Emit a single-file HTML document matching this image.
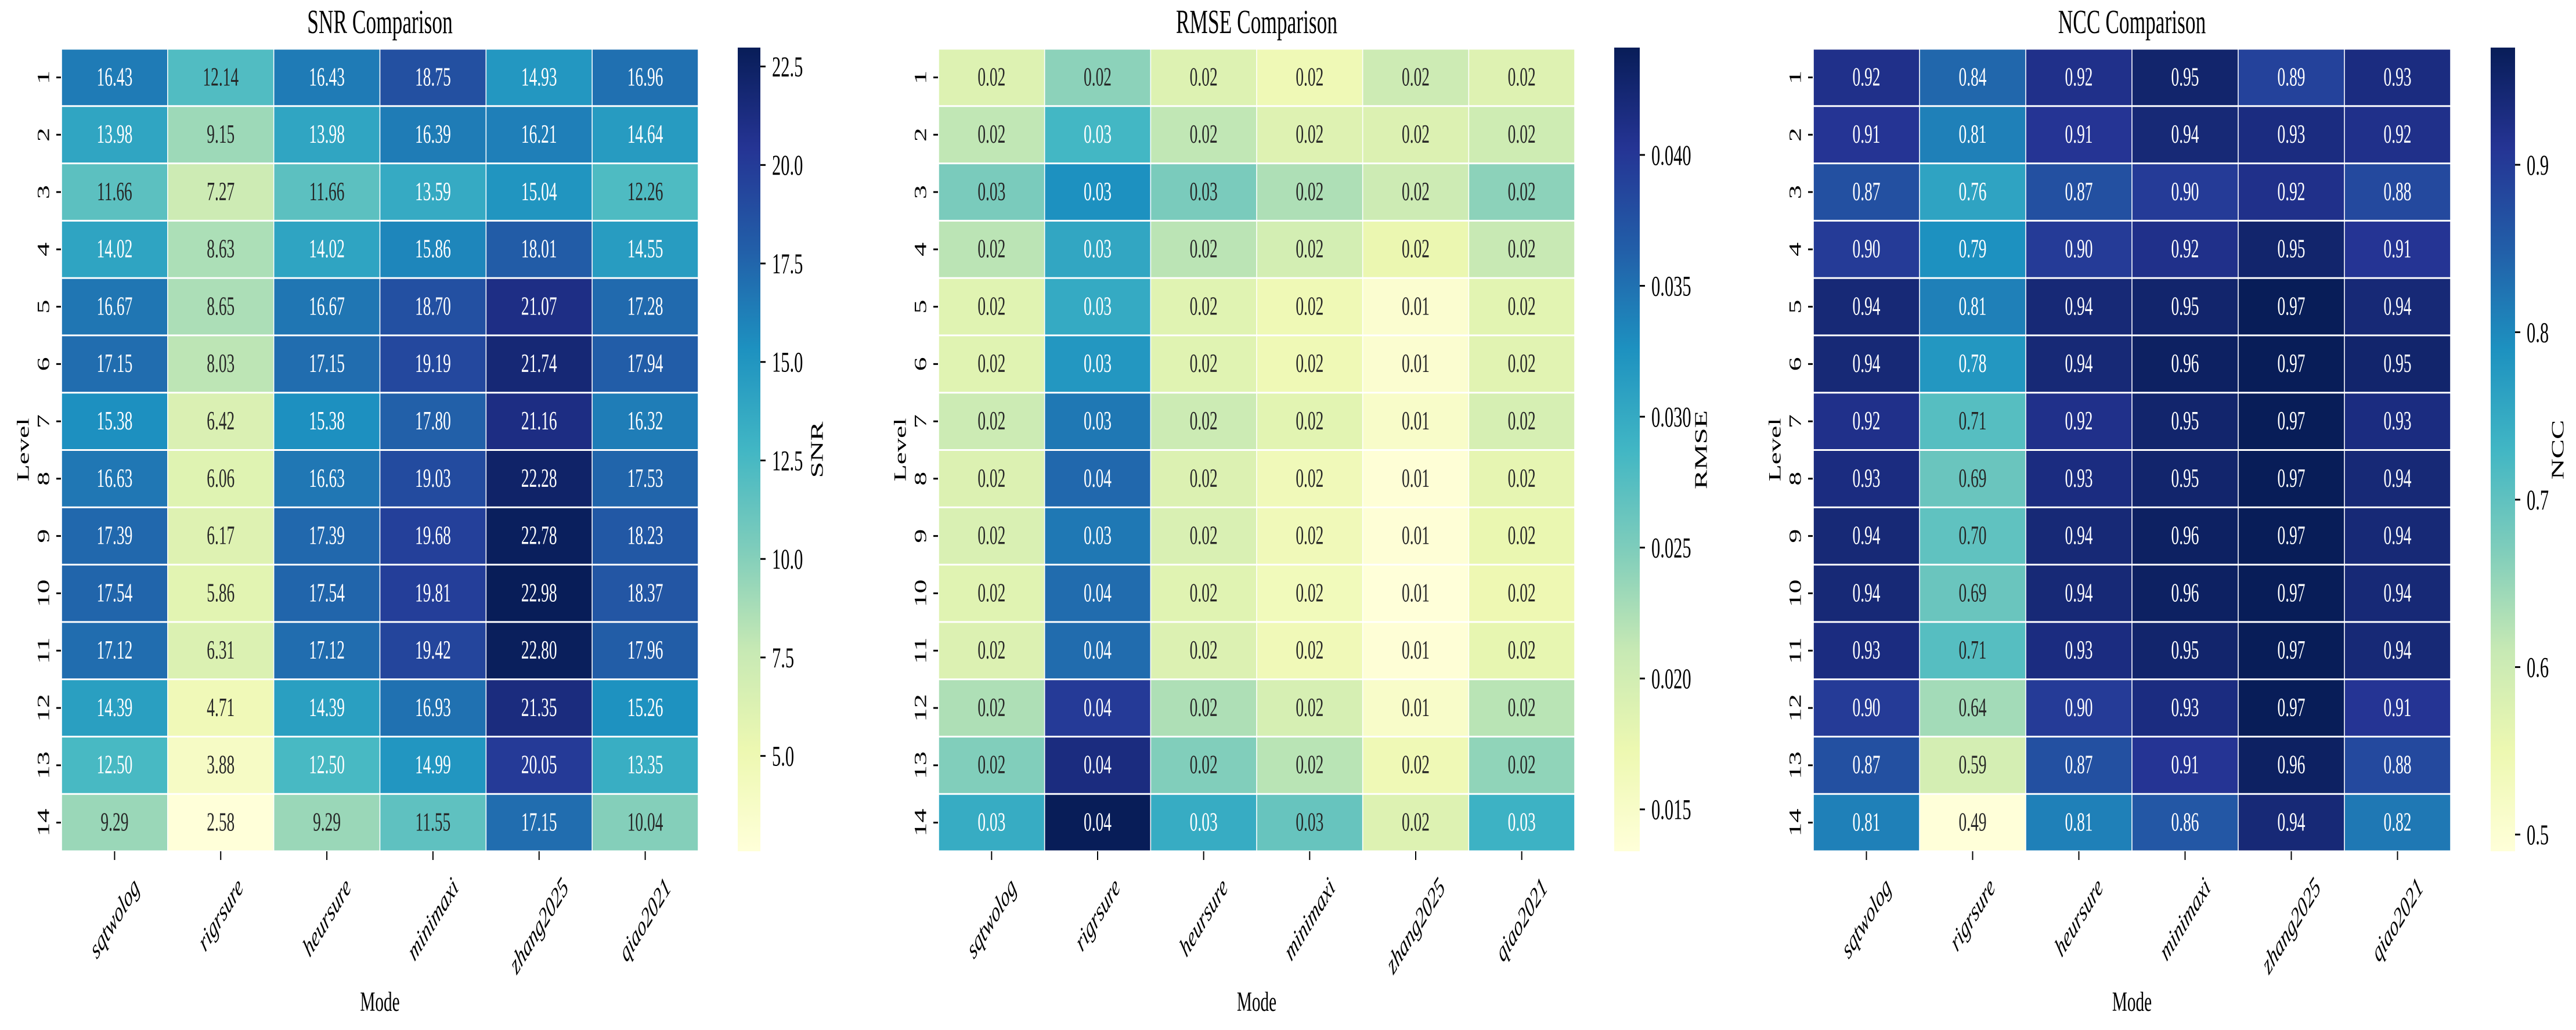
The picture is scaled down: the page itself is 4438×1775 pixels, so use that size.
<!DOCTYPE html>
<html><head><meta charset="utf-8">
<style>
html,body{margin:0;padding:0;background:#fff;}
svg{display:block;font-family:"Liberation Serif","DejaVu Serif",serif;}
</style></head>
<body>
<svg id="chart" width="4438" height="1775" viewBox="0 0 4438 1775" xmlns="http://www.w3.org/2000/svg">
<defs>
<linearGradient id="ylgnbu" x1="0" y1="1" x2="0" y2="0">
<stop offset="0" stop-color="#ffffd9"/><stop offset="0.125" stop-color="#edf8b1"/><stop offset="0.25" stop-color="#c7e9b4"/><stop offset="0.375" stop-color="#7fcdbb"/><stop offset="0.5" stop-color="#41b6c4"/><stop offset="0.625" stop-color="#1d91c0"/><stop offset="0.75" stop-color="#225ea8"/><stop offset="0.875" stop-color="#253494"/><stop offset="1" stop-color="#081d58"/>
</linearGradient>
</defs>
</svg>
<script>
const modes = ["sqtwolog","rigrsure","heursure","minimaxi","zhang2025","qiao2021"];
const levels = ["1","2","3","4","5","6","7","8","9","10","11","12","13","14"];
const snrValues = [
[16.43,12.14,16.43,18.75,14.93,16.96],
[13.98,9.15,13.98,16.39,16.21,14.64],
[11.66,7.27,11.66,13.59,15.04,12.26],
[14.02,8.63,14.02,15.86,18.01,14.55],
[16.67,8.65,16.67,18.70,21.07,17.28],
[17.15,8.03,17.15,19.19,21.74,17.94],
[15.38,6.42,15.38,17.80,21.16,16.32],
[16.63,6.06,16.63,19.03,22.28,17.53],
[17.39,6.17,17.39,19.68,22.78,18.23],
[17.54,5.86,17.54,19.81,22.98,18.37],
[17.12,6.31,17.12,19.42,22.80,17.96],
[14.39,4.71,14.39,16.93,21.35,15.26],
[12.50,3.88,12.50,14.99,20.05,13.35],
[9.29,2.58,9.29,11.55,17.15,10.04]];
const rmseValues = [
[0.0189,0.0242,0.0189,0.0168,0.0205,0.0188],
[0.0214,0.0286,0.0214,0.0188,0.0190,0.0204],
[0.0252,0.0326,0.0252,0.0224,0.0205,0.0242],
[0.0217,0.0304,0.0217,0.0199,0.0174,0.0210],
[0.0186,0.0300,0.0186,0.0168,0.0143,0.0183],
[0.0186,0.0320,0.0186,0.0168,0.0143,0.0184],
[0.0206,0.0345,0.0206,0.0183,0.0149,0.0196],
[0.0190,0.0357,0.0190,0.0165,0.0137,0.0179],
[0.0193,0.0345,0.0193,0.0165,0.0137,0.0175],
[0.0186,0.0354,0.0186,0.0163,0.0134,0.0170],
[0.0190,0.0354,0.0190,0.0166,0.0137,0.0178],
[0.0224,0.0397,0.0224,0.0196,0.0149,0.0218],
[0.0248,0.0416,0.0248,0.0218,0.0168,0.0240],
[0.0298,0.0441,0.0298,0.0264,0.0189,0.0292]];
const nccValues = [
[0.92,0.84,0.92,0.95,0.89,0.93],
[0.91,0.81,0.91,0.94,0.93,0.92],
[0.87,0.76,0.87,0.90,0.92,0.88],
[0.90,0.79,0.90,0.92,0.95,0.91],
[0.94,0.81,0.94,0.95,0.97,0.94],
[0.94,0.78,0.94,0.96,0.97,0.95],
[0.92,0.71,0.92,0.95,0.97,0.93],
[0.93,0.69,0.93,0.95,0.97,0.94],
[0.94,0.70,0.94,0.96,0.97,0.94],
[0.94,0.69,0.94,0.96,0.97,0.94],
[0.93,0.71,0.93,0.95,0.97,0.94],
[0.90,0.64,0.90,0.93,0.97,0.91],
[0.87,0.59,0.87,0.91,0.96,0.88],
[0.81,0.49,0.81,0.86,0.94,0.82]];
const snrTickStep = 2.5, rmseTickStep = 0.005, nccTickStep = 0.1;

const NS = "http://www.w3.org/2000/svg";
const svg = document.getElementById("chart");
const SX = 0.61;
const stops = ["#ffffd9","#edf8b1","#c7e9b4","#7fcdbb","#41b6c4","#1d91c0","#225ea8","#253494","#081d58"].map(h=>[parseInt(h.slice(1,3),16),parseInt(h.slice(3,5),16),parseInt(h.slice(5,7),16)]);
function cmap(t){t=Math.max(0,Math.min(1,t));const p=t*8;const i=Math.min(7,Math.floor(p));const f=p-i;const a=stops[i],b=stops[i+1];return [0,1,2].map(k=>Math.round(a[k]+(b[k]-a[k])*f));}
function lum(c){const l=c.map(v=>{v/=255;return v<=0.03928?v/12.92:Math.pow((v+0.055)/1.055,2.4);});return 0.2126*l[0]+0.7152*l[1]+0.0722*l[2];}
function mk(tag,attrs,parent){const e=document.createElementNS(NS,tag);for(const k in attrs)e.setAttribute(k,attrs[k]);(parent||svg).appendChild(e);return e;}
function txt(s,x,y,size,extra,parent){const e=mk("text",Object.assign({transform:"translate("+x+","+y+") scale("+SX+",1)"+(extra&&extra.rot?" rotate("+extra.rot+")":""),"font-size":size,"text-anchor":(extra&&extra.anchor)||"middle","dominant-baseline":(extra&&extra.base)||"central",fill:(extra&&extra.fill)||"#000"},(extra&&extra.italic)?{"font-style":"italic"}:{}),parent);e.textContent=s;return e;}

const Y0=84,Y1=1467;
const panels=[
 {key:"snr",data:snrValues,step:snrTickStep,fmt:2,tfmt:1,x0:106,x1:1203,cb0:1271,cb1:1310,lx:1407,title:"SNR Comparison",cbl:"SNR"},
 {key:"rmse",data:rmseValues,step:rmseTickStep,fmt:2,tfmt:3,x0:1617,x1:2713,cb0:2781,cb1:2825,lx:2930,title:"RMSE Comparison",cbl:"RMSE"},
 {key:"ncc",data:nccValues,step:nccTickStep,fmt:2,tfmt:1,x0:3124,x1:4222,cb0:4291,cb1:4333,lx:4406,title:"NCC Comparison",cbl:"NCC"}];

panels.forEach(p=>{
 const g=mk("g",{});
 
 
 const flat=p.data.flat();
 const vmin=Math.min(...flat),vmax=Math.max(...flat);
 const norm=v=>(v-vmin)/(vmax-vmin);
 const xScale=i=>p.x0+i*(p.x1-p.x0)/modes.length;
 const cw=(p.x1-p.x0)/modes.length;
 const yScale=j=>Y0+j*(Y1-Y0)/levels.length;
 const rh=(Y1-Y0)/levels.length;
 const cbY=v=>1467-(v-vmin)/(vmax-vmin)*(1467-82);
 // title
 const t=txt(p.title,(p.x0+p.x1)/2,57,58,{base:"alphabetic"},g);
 
 
 // cells
 p.data.forEach((row,j)=>row.forEach((v,i)=>{
  const c=cmap(norm(v));
  const r=mk("rect",{x:xScale(i)+0.8,y:yScale(j)+1.5,width:cw-1.6,height:rh-3,fill:"rgb("+c.join(",")+")"},g);
  
  
  const a=txt(v.toFixed(p.fmt),xScale(i)+cw/2,yScale(j)+rh/2,45,{fill:lum(c)>0.408?"#262626":"#ffffff"},g);
  
  
 }));
 // y ticks
 levels.forEach((l,j)=>{
  const yc=yScale(j)+rh/2;
  const tk=mk("line",{x1:p.x0-9,x2:p.x0-1,y1:yc,y2:yc,stroke:"#000","stroke-width":3},g);
  
  
  const lb=txt(l,p.x0-31,yc,48,{rot:-90},g);
  
  
 });
 // x ticks
 modes.forEach((m,i)=>{
  const xc=xScale(i)+cw/2;
  const tk=mk("line",{x1:xc,x2:xc,y1:1467,y2:1482,stroke:"#000","stroke-width":2},g);
  
  
  const lb=txt(m,xc,1560,48,{rot:-45,italic:true},g);
  
  
  const L=lb.getComputedTextLength();
  const h=(L+48*0.75)*0.7071;
  lb.setAttribute("transform","translate("+xc+","+(1508+h/2)+") scale("+SX+",1) rotate(-45)");
 });
 const yl=txt("Level",p.x0-66,775,48,{rot:-90},g);
 
 
 const xl=txt("Mode",(p.x0+p.x1)/2,1742,48,{base:"alphabetic"},g);
 
 
 // colorbar
 const cb=mk("rect",{x:p.cb0,y:82,width:p.cb1-p.cb0,height:1385,fill:"url(#ylgnbu)"},g);
 
 
 const first=Math.ceil(vmin/p.step-1e-9);
 for(let k=first;k*p.step<=vmax+1e-12;k++){
  const v=k*p.step,y=cbY(v);
  const tk=mk("line",{x1:p.cb1,x2:p.cb1+9,y1:y,y2:y,stroke:"#000","stroke-width":3},g);
  
  
  const lb=txt(v.toFixed(p.tfmt),p.cb1+20,y,50,{anchor:"start"},g);
  
  
 }
 const cl=txt(p.cbl,p.lx,775,50,{rot:-90},g);
 
 
});
</script>
</body></html>
